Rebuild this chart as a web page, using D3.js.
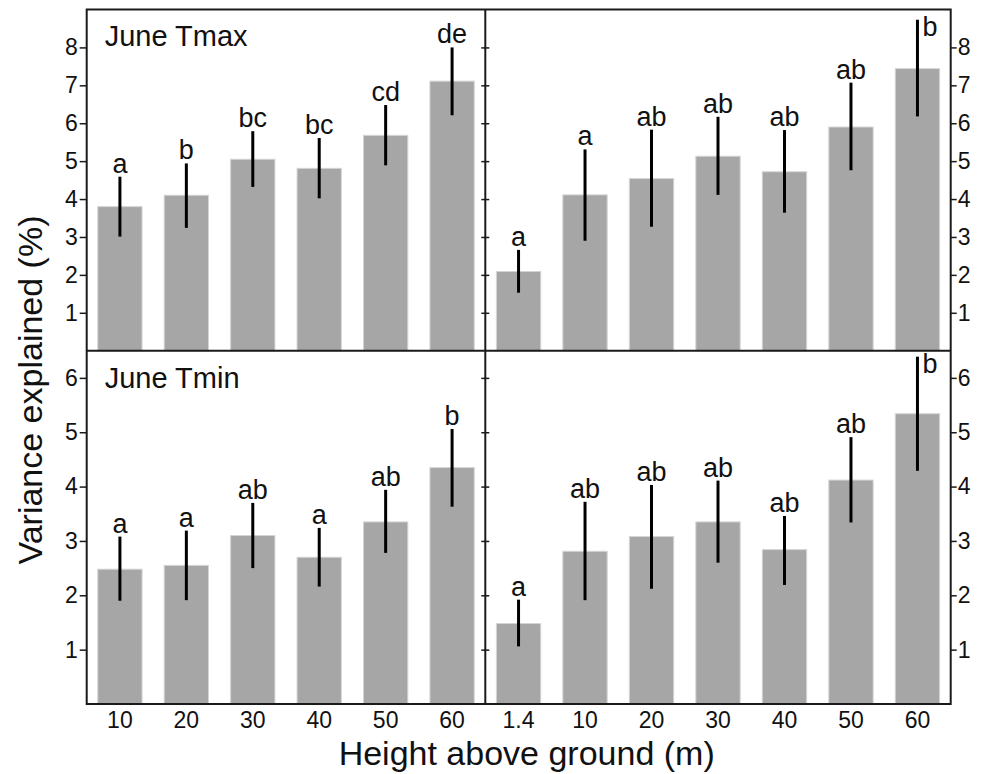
<!DOCTYPE html>
<html>
<meta charset=utf-8>
<head>
<style>
  body { margin: 0; background: #fff; }
  svg text { font-family: "Liberation Sans", Arial, sans-serif; fill: #111; }
</style>
</head>
<body>
<svg id="canvas" width="987" height="774"></svg>
<script src="https://d3js.org/d3.v7.min.js"></script>
<script>

// categories (height above ground, m)
var heightsLeft = ['10', '20', '30', '40', '50', '60'];
var heightsRight = ['1.4', '10', '20', '30', '40', '50', '60'];

// June Tmax
var tmaxLeft      = [3.80, 4.10, 5.05, 4.81, 5.68, 7.11];
var tmaxLeftLo    = [3.01, 3.24, 4.32, 4.02, 4.89, 6.21];
var tmaxLeftHi    = [4.59, 4.94, 5.79, 5.61, 6.48, 8.00];
var tmaxLeftSig   = ['a', 'b', 'bc', 'bc', 'cd', 'de'];

var tmaxRight     = [2.09, 4.11, 4.54, 5.13, 4.72, 5.90, 7.44];
var tmaxRightLo   = [1.53, 2.90, 3.27, 4.11, 3.64, 4.76, 6.18];
var tmaxRightHi   = [2.66, 5.31, 5.83, 6.17, 5.82, 7.07, 8.73];
var tmaxRightSig  = ['a', 'a', 'ab', 'ab', 'ab', 'ab', 'b'];

// June Tmin
var tminLeft      = [2.48, 2.55, 3.10, 2.70, 3.35, 4.35];
var tminLeftLo    = [1.90, 1.91, 2.50, 2.16, 2.78, 3.63];
var tminLeftHi    = [3.08, 3.19, 3.70, 3.24, 3.94, 5.06];
var tminLeftSig   = ['a', 'a', 'ab', 'a', 'ab', 'b'];

var tminRight     = [1.48, 2.81, 3.08, 3.35, 2.84, 4.12, 5.34];
var tminRightLo   = [1.06, 1.91, 2.12, 2.60, 2.19, 3.34, 4.29];
var tminRightHi   = [1.92, 3.72, 4.03, 4.11, 3.46, 4.91, 6.39];
var tminRightSig  = ['a', 'ab', 'ab', 'ab', 'ab', 'ab', 'b'];

var tmaxTicks = [1, 2, 3, 4, 5, 6, 7, 8];
var tminTicks = [1, 2, 3, 4, 5, 6];

var svg = d3.select('#canvas');

var xL = 86.7, xM = 485.3, xR = 950.7;
var yT = 9.5, yS = 350.7, yB = 704;

var xLeft = d3.scaleBand().domain(heightsLeft).range([xL, xM])
  .paddingInner(1/3).paddingOuter(1/6);
var xRight = d3.scaleBand().domain(heightsRight).range([xM, xR])
  .paddingInner(1/3).paddingOuter(1/6);

var yMax = d3.scaleLinear().domain([0, 9]).range([yS, yT]);
var yMin = d3.scaleLinear().domain([0, 6.5]).range([yB, yS]);

function drawBars(x, y, cats, vals, lo, hi, sig, panelTop) {
  var g = svg.append('g');
  var data = cats.map(function(c, i) {
    return {cat: c, v: vals[i], lo: lo[i], hi: hi[i], sig: sig[i]};
  });

  g.selectAll('rect')
    .data(data)
    .enter().append('rect')
    .attr('x', function(d) { return x(d.cat) })
    .attr('y', function(d) { return y(d.v) })
    .attr('width', x.bandwidth())
    .attr('height', function(d) { return y(0) - y(d.v) })
    .attr('fill', '#a6a6a6')
    .attr('stroke', '#d4d4d4')
    .attr('stroke-width', 1);

  g.selectAll('line.err')
    .data(data)
    .enter().append('line')
    .attr('class', 'err')
    .attr('x1', function(d) { return x(d.cat) + x.bandwidth() / 2 })
    .attr('x2', function(d) { return x(d.cat) + x.bandwidth() / 2 })
    .attr('y1', function(d) { return y(d.lo) })
    .attr('y2', function(d) { return y(d.hi) })
    .attr('stroke', '#000')
    .attr('stroke-width', 3);

  // letters go above the error bar, or beside it when there is no room
  g.selectAll('text.sig')
    .data(data)
    .enter().append('text')
    .attr('class', 'sig')
    .attr('font-size', 27)
    .each(function(d) {
      var cx = x(d.cat) + x.bandwidth() / 2;
      var t = d3.select(this).text(d.sig);
      if (y(d.hi) - 22 < panelTop) {
        t.attr('x', cx + 5).attr('y', y(d.hi) + 16).attr('text-anchor', 'start');
      } else {
        t.attr('x', cx).attr('y', y(d.hi) - 4).attr('text-anchor', 'middle');
      }
    });
}

drawBars(xLeft, yMax, heightsLeft, tmaxLeft, tmaxLeftLo, tmaxLeftHi, tmaxLeftSig, yT);
drawBars(xRight, yMax, heightsRight, tmaxRight, tmaxRightLo, tmaxRightHi, tmaxRightSig, yT);
drawBars(xLeft, yMin, heightsLeft, tminLeft, tminLeftLo, tminLeftHi, tminLeftSig, yS);
drawBars(xRight, yMin, heightsRight, tminRight, tminRightLo, tminRightHi, tminRightSig, yS);

function styleAxis(g, size) {
  g.select('.domain').remove();
  g.selectAll('line').attr('stroke', '#1a1a1a').attr('stroke-width', 1.5);
  g.selectAll('text').attr('font-size', size).attr('font-family', null);
}

var fmt = d3.format('d');

// left axes
svg.append('g').attr('transform', 'translate(' + xL + ',0)')
  .call(d3.axisLeft(yMax).tickValues(tmaxTicks).tickFormat(fmt).tickSize(7).tickPadding(2))
  .call(styleAxis, 23);
svg.append('g').attr('transform', 'translate(' + xL + ',0)')
  .call(d3.axisLeft(yMin).tickValues(tminTicks).tickFormat(fmt).tickSize(7).tickPadding(2))
  .call(styleAxis, 23);

// right axes
svg.append('g').attr('transform', 'translate(' + xR + ',0)')
  .call(d3.axisRight(yMax).tickValues(tmaxTicks).tickFormat(fmt).tickSize(6).tickPadding(1))
  .call(styleAxis, 23);
svg.append('g').attr('transform', 'translate(' + xR + ',0)')
  .call(d3.axisRight(yMin).tickValues(tminTicks).tickFormat(fmt).tickSize(6).tickPadding(1))
  .call(styleAxis, 23);

// ticks crossing the middle divider
[[yMax, tmaxTicks], [yMin, tminTicks]].forEach(function(p) {
  svg.append('g').attr('transform', 'translate(' + xM + ',0)')
    .call(d3.axisLeft(p[0]).tickValues(p[1]).tickSize(4).tickFormat(''))
    .call(styleAxis, 0);
  svg.append('g').attr('transform', 'translate(' + xM + ',0)')
    .call(d3.axisRight(p[0]).tickValues(p[1]).tickSize(4).tickFormat(''))
    .call(styleAxis, 0);
});

// x axes (labels only)
svg.append('g').attr('transform', 'translate(0,' + yB + ')')
  .call(d3.axisBottom(xLeft).tickSize(0).tickPadding(8))
  .call(styleAxis, 23);
svg.append('g').attr('transform', 'translate(0,' + yB + ')')
  .call(d3.axisBottom(xRight).tickSize(0).tickPadding(8))
  .call(styleAxis, 23);

// frame and dividers
var frame = svg.append('g')
  .attr('fill', 'none')
  .attr('stroke', '#1a1a1a')
  .attr('stroke-width', 2);
frame.append('rect')
  .attr('x', xL).attr('y', yT)
  .attr('width', xR - xL).attr('height', yB - yT);
frame.append('line').attr('x1', xM).attr('x2', xM).attr('y1', yT).attr('y2', yB);
frame.append('line').attr('x1', xL).attr('x2', xR).attr('y1', yS).attr('y2', yS);

// panel titles
svg.append('text').attr('x', xL + 18).attr('y', yT + 36)
  .attr('font-size', 29).text('June Tmax');
svg.append('text').attr('x', xL + 18).attr('y', yS + 37)
  .attr('font-size', 29).text('June Tmin');

// axis titles
svg.append('text')
  .attr('x', (xL + xR) / 2 + 8).attr('y', 765)
  .attr('text-anchor', 'middle')
  .attr('font-size', 34)
  .text('Height above ground (m)');

svg.append('text')
  .attr('transform', 'translate(42,390) rotate(-90)')
  .attr('text-anchor', 'middle')
  .attr('font-size', 34)
  .text('Variance explained (%)');

</script>
</body>
</html>
